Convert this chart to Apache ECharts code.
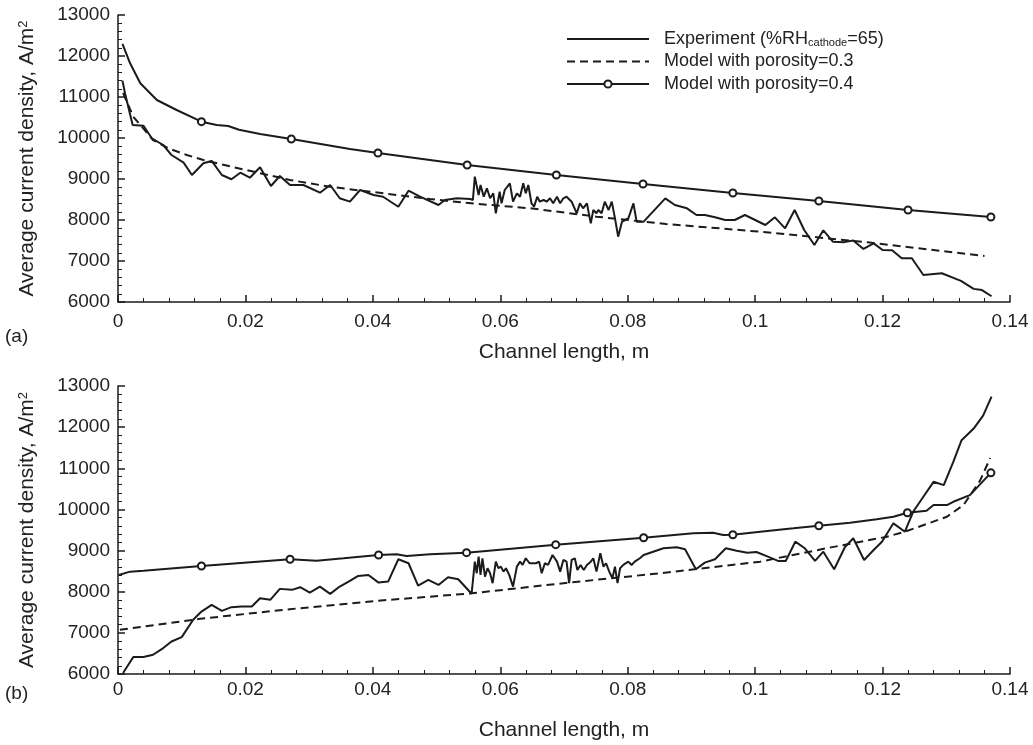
<!DOCTYPE html>
<html>
<head>
<meta charset="utf-8">
<script src="https://cdn.jsdelivr.net/npm/echarts@6/dist/echarts.min.js"></script>
<style>
html,body{margin:0;padding:0;background:#fff;}
#chart{width:1033px;height:745px;}
</style>
</head>
<body>
<div id="chart"></div>
<script>
// ---------- Data ----------
const xTicks = [0, 0.02, 0.04, 0.06, 0.08, 0.1, 0.12, 0.14];
const yTicks = [6000, 7000, 8000, 9000, 10000, 11000, 12000, 13000];
const seriesNames = ['Experiment', 'Model with porosity=0.3', 'Model with porosity=0.4'];

// Panel (a)
const expA = [
  [0.0007,11400],[0.0011,11090],[0.0023,10317],[0.004,10300],[0.0053,9993],[0.0071,9829],[0.0084,9585],
  [0.0103,9400],[0.0116,9097],[0.0134,9383],[0.0147,9440],[0.0163,9097],[0.0178,8993],[0.0192,9154],
  [0.0207,9032],[0.0223,9285],[0.024,8829],[0.0254,9073],[0.027,8854],[0.0291,8854],[0.0317,8666],
  [0.0333,8854],[0.0348,8530],[0.0364,8447],[0.038,8732],[0.0401,8610],[0.0416,8568],[0.044,8324],
  [0.0456,8715],[0.0474,8568],[0.0503,8366],[0.0513,8488],[0.0532,8530],[0.0553,8512],[0.0557,8488],
  [0.056,9057],[0.0566,8610],[0.0569,8854],[0.0574,8568],[0.0579,8773],[0.0584,8529],[0.0589,8651],
  [0.0593,8163],[0.0599,8691],[0.0602,8407],[0.0607,8732],[0.0615,8895],[0.062,8447],[0.0626,8651],
  [0.0631,8568],[0.0636,8895],[0.064,8651],[0.0644,8854],[0.0649,8407],[0.0653,8325],[0.0658,8568],
  [0.0662,8447],[0.0668,8488],[0.0673,8447],[0.0678,8529],[0.0683,8407],[0.0689,8568],[0.0694,8407],
  [0.0699,8529],[0.0704,8568],[0.0712,8447],[0.072,8163],[0.0725,8407],[0.073,8285],[0.0736,8407],
  [0.0742,7919],[0.0746,8244],[0.0751,8163],[0.0754,8244],[0.0759,8163],[0.0764,8447],[0.077,8244],
  [0.0775,8447],[0.078,8041],[0.0785,7593],[0.0791,7959],[0.0796,8000],[0.0801,8041],[0.0809,8407],
  [0.0814,7959],[0.0825,7959],[0.0859,8529],[0.0874,8366],[0.0893,8285],[0.0908,8122],[0.0921,8122],
  [0.0937,8065],[0.0953,8000],[0.0968,8000],[0.0984,8122],[0.1,8000],[0.1016,7878],[0.1031,8065],
  [0.1047,7797],[0.1062,8244],[0.1077,7756],[0.1093,7390],[0.1107,7748],[0.1122,7471],[0.114,7460],
  [0.1154,7500],[0.117,7295],[0.1186,7431],[0.12,7268],[0.1215,7260],[0.123,7066],[0.1246,7066],
  [0.1264,6659],[0.1293,6700],[0.1323,6515],[0.1343,6320],[0.1356,6290],[0.1371,6140]
];
const model03A = [
  [0.0008,11100],[0.0024,10520],[0.0055,9951],[0.0079,9749],[0.0108,9585],[0.0134,9463],[0.0178,9300],
  [0.027,8976],[0.0333,8810],[0.049,8510],[0.0558,8400],[0.0647,8285],[0.0751,8081],[0.086,7902],
  [0.1008,7715],[0.118,7450],[0.136,7122]
];
const model04A = [
  [0.0007,12293],[0.0019,11822],[0.0035,11334],[0.0061,10927],[0.0092,10683],[0.0131,10398],
  [0.0155,10317],[0.0173,10293],[0.019,10200],[0.0223,10100],[0.0272,9975],[0.0364,9732],
  [0.0408,9634],[0.0548,9341],[0.0688,9097],[0.0824,8878],[0.0965,8658],[0.110,8463],[0.124,8244],
  [0.137,8073]
];
const model04AMarkers = [0.0131, 0.0272, 0.0408, 0.0548, 0.0688, 0.0824, 0.0965, 0.110, 0.124, 0.137];

// Panel (b)
const expB = [
  [0.0008,6024],[0.0024,6412],[0.004,6412],[0.0055,6468],[0.0071,6630],[0.0084,6791],[0.01,6897],
  [0.0118,7317],[0.0131,7518],[0.0147,7681],[0.0163,7535],[0.0178,7625],[0.0194,7641],[0.021,7641],
  [0.0223,7843],[0.0239,7802],[0.0254,8069],[0.0273,8045],[0.0286,8110],[0.0301,7979],[0.0317,8125],
  [0.0333,7947],[0.0348,8125],[0.0364,8263],[0.0377,8384],[0.0393,8408],[0.0409,8222],[0.0424,8246],
  [0.044,8789],[0.0456,8692],[0.0471,8149],[0.0487,8287],[0.0503,8165],[0.0518,8352],[0.0534,8304],
  [0.0555,7950],[0.056,8731],[0.0563,8449],[0.0566,8852],[0.0569,8408],[0.0572,8813],[0.0576,8367],
  [0.058,8570],[0.0584,8449],[0.0588,8207],[0.0593,8731],[0.0597,8570],[0.0601,8609],[0.0605,8488],
  [0.0609,8570],[0.0614,8408],[0.062,8124],[0.0626,8609],[0.0631,8731],[0.0635,8651],[0.064,8813],
  [0.0646,8692],[0.0649,8731],[0.0656,8692],[0.0661,8731],[0.0665,8449],[0.067,8692],[0.0675,8651],
  [0.0682,8893],[0.0689,8731],[0.0694,8488],[0.0699,8772],[0.0704,8731],[0.0708,8207],[0.0712,8772],
  [0.0717,8813],[0.0721,8529],[0.0726,8651],[0.0731,8529],[0.0736,8651],[0.0742,8731],[0.0746,8813],
  [0.0751,8488],[0.0757,8934],[0.0762,8609],[0.0766,8692],[0.0771,8488],[0.0776,8328],[0.078,8609],
  [0.0784,8207],[0.0788,8570],[0.0793,8651],[0.0801,8731],[0.0806,8651],[0.0811,8731],[0.0819,8813],
  [0.0825,8893],[0.0856,9056],[0.0877,9080],[0.089,9031],[0.0907,8546],[0.0921,8707],[0.0937,8789],
  [0.0954,9056],[0.0971,8998],[0.0988,8949],[0.1002,8966],[0.102,8852],[0.1036,8748],[0.1048,8748],
  [0.1063,9216],[0.1078,9056],[0.1094,8748],[0.1107,8973],[0.1124,8546],[0.1141,9087],[0.1154,9298],
  [0.1171,8772],[0.1186,9014],[0.1199,9216],[0.1217,9662],[0.1235,9458],[0.1248,9943],[0.1264,10307],
  [0.128,10671],[0.1296,10591],[0.1311,11156],[0.1324,11682],[0.1343,11966],[0.1358,12288],[0.1371,12740]
];
const model03B = [
  [0.0003,7075],[0.0129,7341],[0.027,7576],[0.0406,7778],[0.0555,7960],[0.0699,8207],[0.0851,8449],
  [0.1008,8731],[0.1112,9056],[0.1207,9337],[0.1235,9458],[0.1301,9822],[0.1327,10106],[0.1353,10700],
  [0.1369,11250]
];
const model04B = [
  [0.0001,8408],[0.0019,8488],[0.004,8512],[0.0131,8626],[0.027,8789],[0.0312,8755],[0.0354,8813],
  [0.0409,8893],[0.0437,8910],[0.0453,8869],[0.049,8910],[0.0547,8949],[0.0687,9143],[0.0825,9313],
  [0.0903,9419],[0.0934,9434],[0.095,9378],[0.0965,9385],[0.1008,9458],[0.106,9540],[0.110,9604],
  [0.1149,9677],[0.1191,9759],[0.1217,9822],[0.1239,9919],[0.1269,9967],[0.128,10106],[0.1301,10106],
  [0.1311,10186],[0.1337,10348],[0.137,10890]
];
const model04BMarkers = [0.0131, 0.027, 0.0409, 0.0547, 0.0687, 0.0825, 0.0965, 0.110, 0.1239, 0.137];

// ---------- Chart ----------
const FONT = 'Liberation Sans, Arial, Helvetica, sans-serif';
const INK = '#1b1b1b';
const TXT = '#222';

function markData(points, markers) {
  return points.map(function (p) {
    const isMark = markers.some(function (m) { return Math.abs(m - p[0]) < 1e-6; });
    return isMark ? { value: p } : { value: p, symbol: 'none' };
  });
}

function xAxisFor(gridIndex, nameGap, labelMargin) {
  return {
    gridIndex: gridIndex, type: 'value', min: xTicks[0], max: xTicks[xTicks.length - 1],
    interval: xTicks[1] - xTicks[0],
    name: 'Channel length, m', nameLocation: 'middle', nameGap: nameGap,
    nameTextStyle: { fontFamily: FONT, fontSize: 21, color: TXT },
    axisLine: { show: true, onZero: false, lineStyle: { color: INK, width: 1.5 } },
    axisTick: { show: true, inside: true, length: 7, lineStyle: { color: INK, width: 1.5 } },
    minorTick: { show: true, splitNumber: 5, length: 4, lineStyle: { color: INK, width: 1 } },
    splitLine: { show: false },
    axisLabel: {
      fontFamily: FONT, fontSize: 19, color: TXT, margin: labelMargin,
      formatter: function (v) { return String(parseFloat(Number(v).toFixed(2))); }
    }
  };
}
function yAxisFor(gridIndex) {
  return {
    gridIndex: gridIndex, type: 'value', min: yTicks[0], max: yTicks[yTicks.length - 1],
    interval: yTicks[1] - yTicks[0],
    name: 'Average current density, A/m{sup|2}', nameLocation: 'middle', nameGap: 80,
    nameTextStyle: {
      fontFamily: FONT, fontSize: 21, color: TXT,
      rich: { sup: { fontFamily: FONT, fontSize: 13, color: TXT, verticalAlign: 'top', lineHeight: 6 } }
    },
    axisLine: { show: true, onZero: false, lineStyle: { color: INK, width: 1.5 } },
    axisTick: { show: true, inside: true, length: 7, lineStyle: { color: INK, width: 1.5 } },
    minorTick: { show: true, splitNumber: 5, length: 4, lineStyle: { color: INK, width: 1 } },
    splitLine: { show: false },
    axisLabel: {
      fontFamily: FONT, fontSize: 19, color: TXT, margin: 8,
      formatter: function (v) { return String(Math.round(v)); }
    }
  };
}

function lineSeries(name, data, idx, opts) {
  return Object.assign({
    name: name, type: 'line', xAxisIndex: idx, yAxisIndex: idx, data: data,
    symbol: 'none', showSymbol: true, smooth: false,
    lineStyle: { color: INK, width: 2 }, itemStyle: { color: INK },
    emphasis: { disabled: true }, z: 3
  }, opts || {});
}

const circleOpts = {
  symbol: 'emptyCircle', symbolSize: 7,
  itemStyle: { color: INK, borderWidth: 1.6 }
};
const dashOpts = { lineStyle: { color: INK, width: 2, type: [8, 5] } };

const chart = echarts.init(document.getElementById('chart'), null, { renderer: 'canvas' });
chart.setOption({
  animation: false,
  backgroundColor: '#fff',
  grid: [
    { left: 118, top: 15, width: 892, height: 287 },
    { left: 118, top: 386, width: 892, height: 288 }
  ],
  xAxis: [xAxisFor(0, 40, 10), xAxisFor(1, 46, 6)],
  yAxis: [yAxisFor(0), yAxisFor(1)],
  legend: {
    data: [
      { name: seriesNames[0], itemStyle: { opacity: 0 } },
      { name: seriesNames[1], itemStyle: { opacity: 0 } },
      { name: seriesNames[2] }
    ],
    orient: 'vertical', left: 566, top: 30, padding: 0,
    itemWidth: 82, itemHeight: 9, itemGap: 4.5,
    selectedMode: false,
    formatter: function (name) {
      return name === 'Experiment' ? 'Experiment (%RH{sub|cathode}=65)' : name;
    },
    textStyle: {
      fontFamily: FONT, fontSize: 18, color: TXT, lineHeight: 18, padding: [0, 0, 0, 10],
      rich: { sub: { fontFamily: FONT, fontSize: 11, color: TXT, verticalAlign: 'bottom', lineHeight: 6 } }
    }
  },
  graphic: [
    { type: 'text', left: 5, top: 327, style: { text: '(a)', font: '19px ' + FONT, fill: TXT } },
    { type: 'text', left: 5, top: 684, style: { text: '(b)', font: '19px ' + FONT, fill: TXT } }
  ],
  series: [
    lineSeries(seriesNames[0], expA, 0),
    lineSeries(seriesNames[1], model03A, 0, dashOpts),
    lineSeries(seriesNames[2], markData(model04A, model04AMarkers), 0, circleOpts),
    lineSeries(seriesNames[0], expB, 1),
    lineSeries(seriesNames[1], model03B, 1, dashOpts),
    lineSeries(seriesNames[2], markData(model04B, model04BMarkers), 1, circleOpts)
  ]
});
</script>
</body>
</html>
